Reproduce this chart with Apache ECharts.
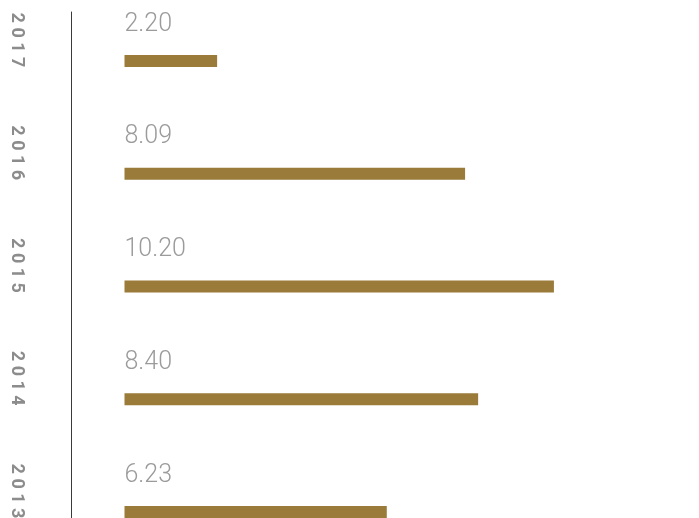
<!DOCTYPE html>
<html>
<head>
<meta charset="utf-8">
<script src="https://cdn.jsdelivr.net/npm/echarts@6/dist/echarts.min.js"></script>
<style>
  html, body { margin: 0; padding: 0; background: #ffffff; }
  #chart { width: 699px; height: 518px; }
</style>
</head>
<body>
<div id="chart"></div>
<script>
// Years, top to bottom
const years = ['2017', '2016', '2015', '2014', '2013'];
// Value for each year
const values = [2.20, 8.09, 10.20, 8.40, 6.23];

const barColor = '#9a7b3a';
const labelGray = '#9b9b9b';
const yearGray = '#8c8c8c';

const chart = echarts.init(document.getElementById('chart'), null, { renderer: 'canvas' });

chart.setOption({
  animation: false,
  backgroundColor: '#ffffff',
  grid: [
    // bars: the last row runs past the bottom edge
    { left: 124.5, width: 547.3, top: 4.6, height: 563.75, containLabel: false, outerBoundsMode: 'none' },
    // vertical rule to the left of the bars
    { left: 71, width: 1, top: 12, height: 506, containLabel: false, outerBoundsMode: 'none' }
  ],
  xAxis: [
    { type: 'value', gridIndex: 0, min: 0, max: 13, show: false },
    { type: 'value', gridIndex: 1, show: false }
  ],
  yAxis: [
    {
      type: 'category',
      gridIndex: 0,
      data: years,
      inverse: true,
      axisLine: { show: false },
      axisTick: { show: false },
      splitLine: { show: false },
      axisLabel: {
        rotate: -90,
        margin: 108,
        align: 'center',
        verticalAlign: 'middle',
        padding: [0, 42, 0, 0],
        color: yearGray,
        fontFamily: 'Roboto',
        fontWeight: 'bold',
        fontSize: 18,
        formatter: function (v) { return v.split('').join(' '); }
      }
    },
    {
      type: 'value',
      gridIndex: 1,
      axisLine: { show: true, onZero: false, lineStyle: { color: '#3a3a3a', width: 1 } },
      axisTick: { show: false },
      axisLabel: { show: false },
      splitLine: { show: false }
    }
  ],
  series: [
    {
      type: 'bar',
      xAxisIndex: 0,
      yAxisIndex: 0,
      data: values,
      barWidth: 12,
      itemStyle: { color: barColor },
      label: {
        show: true,
        position: [0, -18],
        align: 'left',
        verticalAlign: 'bottom',
        color: labelGray,
        fontFamily: 'Roboto',
        fontWeight: 300,
        fontSize: 25,
        formatter: function (p) { return p.value.toFixed(2); }
      }
    }
  ]
});
</script>
</body>
</html>
